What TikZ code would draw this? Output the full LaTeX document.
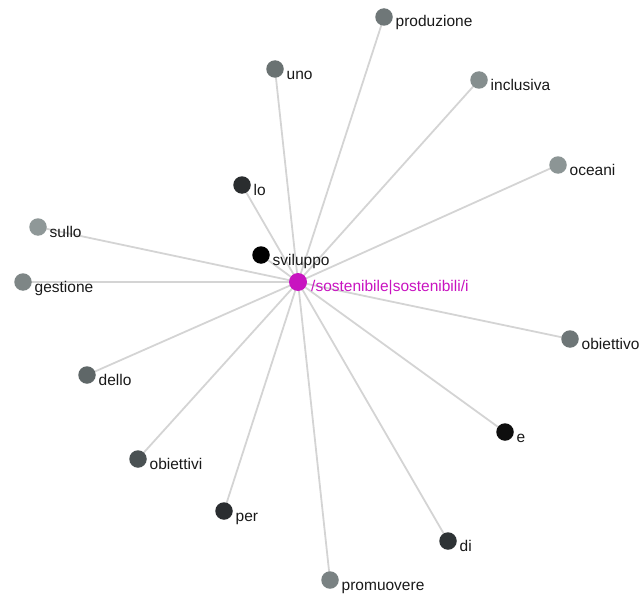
\documentclass[tikz,border=0pt]{standalone}
\usepackage{fontspec}
\setmainfont{Liberation Sans}
\usetikzlibrary{backgrounds}
\definecolor{edgegray}{HTML}{D4D4D4}
\definecolor{hubpink}{HTML}{C814C0}

\begin{document}
\begin{tikzpicture}[x=1pt,y=-1pt,
  dot/.style={circle,inner sep=0pt,minimum size=17.5pt},
  word/.style={anchor=base west,inner sep=0pt,font=\fontsize{15.5}{18}\selectfont,text=black!90},
  edge/.style={draw=edgegray,line width=1.8pt}]
  \useasboundingbox (0,0) rectangle (640,594);
  \node[dot,minimum size=18pt,fill=hubpink] (hub) at (298,282) {};
  \node[word,text=hubpink] (hub-t) at ([shift={(13,9.5)}]hub.center) {/sostenibile|sostenibili/i};
  % parole collegate: nome/x/y/colore
  \foreach \w/\x/\y/\c in {produzione/384/17/6F7778, uno/275/69/6A7272, inclusiva/479/80/858E8E,
      oceani/558/165/8C9595, lo/242/185/2A2D2F, sullo/38/227/8F9898, sviluppo/261/255/000000,
      gestione/23/282/7E8686, obiettivo/570/339/6E7677, dello/87/375/5F6768, e/505/432/0E0E0E,
      obiettivi/138/459/4A5153, per/224/511/2A2D30, di/448/541/2E3335, promuovere/330/580/7A8283}{
    \definecolor{dotcol}{HTML}{\c}
    \node[dot,fill=dotcol] (\w) at (\x,\y) {};
    \node[word] (\w-t) at ([shift={(11.5,10)}]\w.center) {\w};
    \begin{pgfonlayer}{background}
      \draw[edge] (hub.center) -- (\w.center);
    \end{pgfonlayer}
  }
\end{tikzpicture}
\end{document}
